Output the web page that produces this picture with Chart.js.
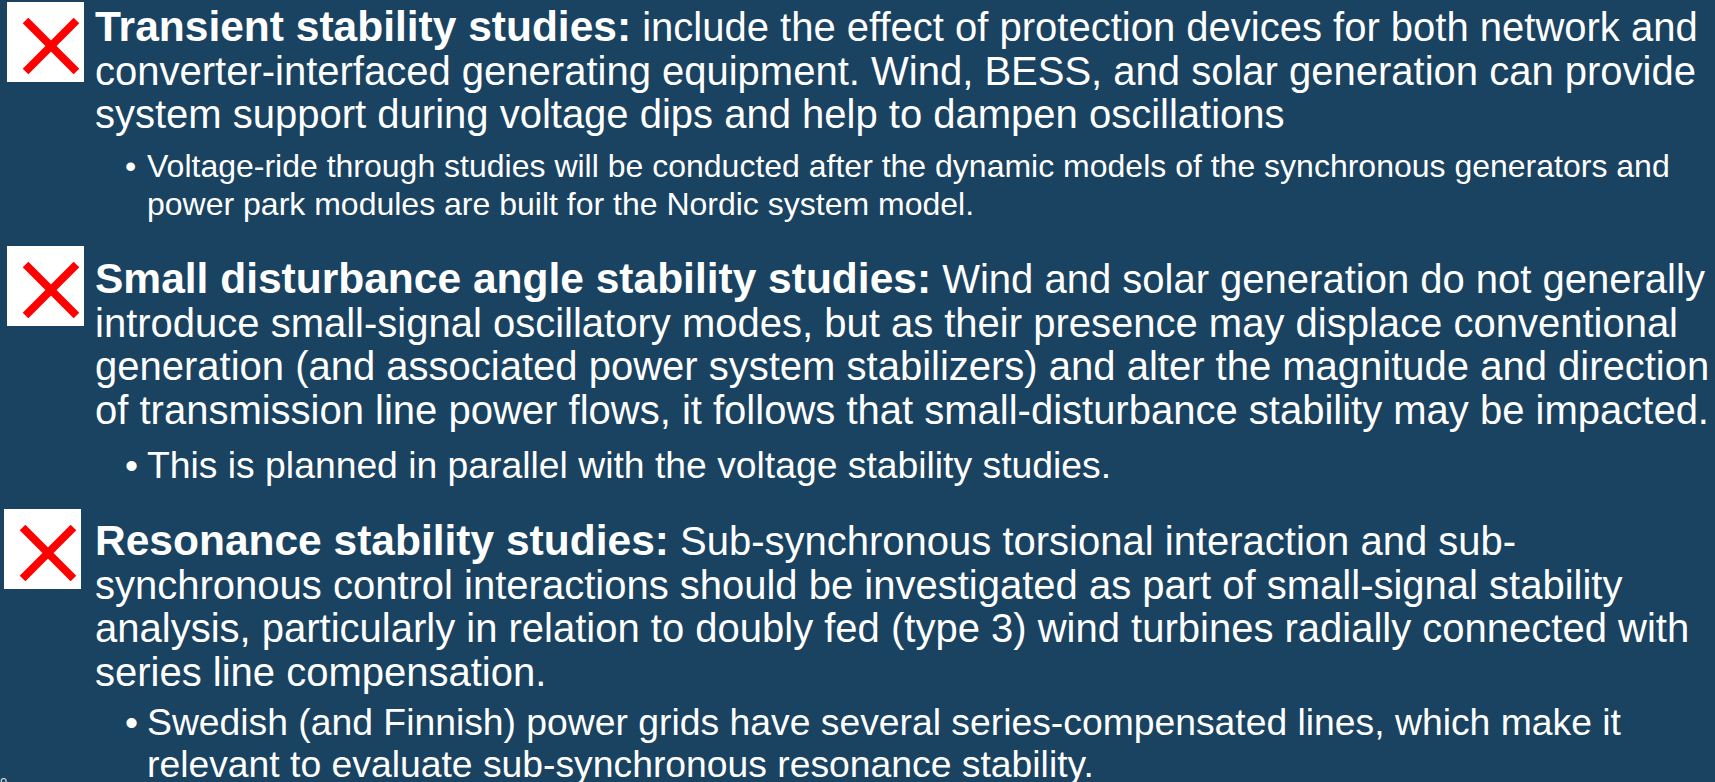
<!DOCTYPE html>
<html>
<head>
<meta charset="utf-8">
<script src="https://cdn.jsdelivr.net/npm/chart.js@4.4.0/dist/chart.umd.min.js"></script>
<style>
  html, body { margin: 0; padding: 0; }
  body {
    width: 1715px; height: 782px; overflow: hidden; position: relative;
    background: #1A4362; color: #fff;
    font-family: "Liberation Sans", Arial, sans-serif;
  }
  .box { position: absolute; width: 77px; height: 80px; background: #fff; }
  .box canvas { display: block; }
  .main { position: absolute; left: 95px; font-size: 40px; line-height: 43.5px; white-space: pre; }
  .main b { font-weight: bold; font-size: 42.5px; }
  .note { position: absolute; left: 147px; white-space: pre; }
  .note .dot { position: absolute; left: -22px; top: 0; }
  .pageno { position: absolute; left: 0; top: 776px; font-size: 13px; line-height: 13px; color: #d8d8d8; }
</style>
</head>
<body>
<div class="pageno">9</div>
<script>
// one entry per study
const studyNames = [
    "Transient stability studies:",
    "Small disturbance angle stability studies:",
    "Resonance stability studies:"
];
const studyStatus = ["not done", "not done", "not done"];

const bodyLines = [
    ["include the effect of protection devices for both network and",
     "converter-interfaced generating equipment. Wind, BESS, and solar generation can provide",
     "system support during voltage dips and help to dampen oscillations"],
    ["Wind and solar generation do not generally",
     "introduce small-signal oscillatory modes, but as their presence may displace conventional",
     "generation (and associated power system stabilizers) and alter the magnitude and direction",
     "of transmission line power flows, it follows that small-disturbance stability may be impacted."],
    ["Sub-synchronous torsional interaction and sub-",
     "synchronous control interactions should be investigated as part of small-signal stability",
     "analysis, particularly in relation to doubly fed (type 3) wind turbines radially connected with",
     "series line compensation."]
];
const noteLines = [
    ["Voltage-ride through studies will be conducted after the dynamic models of the synchronous generators and",
     "power park modules are built for the Nordic system model."],
    ["This is planned in parallel with the voltage stability studies."],
    ["Swedish (and Finnish) power grids have several series-compensated lines, which make it",
     "relevant to evaluate sub-synchronous resonance stability."]
];

// placement of each block on the slide
const layout = [
    { boxLeft: 7, boxTop: 2,   top: 5,   noteTop: 147,   noteSize: 32,   noteLH: 38 },
    { boxLeft: 7, boxTop: 246, top: 257, noteTop: 444,   noteSize: 37.3, noteLH: 42 },
    { boxLeft: 4, boxTop: 509, top: 519, noteTop: 701,   noteSize: 37.3, noteLH: 42 }
];

studyNames.forEach((name, i) => {
    const lay = layout[i];

    // texto principal
    const main = document.createElement("div");
    main.className = "main";
    main.style.top = lay.top + "px";
    bodyLines[i].forEach((line, k) => {
        const row = document.createElement("div");
        if (k === 0) {
            const b = document.createElement("b");
            b.textContent = name;
            row.appendChild(b);
            row.appendChild(document.createTextNode(" " + line));
        } else {
            row.textContent = line;
        }
        main.appendChild(row);
    });
    document.body.appendChild(main);

    // sub bullet
    const note = document.createElement("div");
    note.className = "note";
    note.style.top = lay.noteTop + "px";
    note.style.fontSize = lay.noteSize + "px";
    note.style.lineHeight = lay.noteLH + "px";
    const dot = document.createElement("span");
    dot.className = "dot";
    dot.textContent = "\u2022";
    note.appendChild(dot);
    noteLines[i].forEach(line => {
        const row = document.createElement("div");
        row.textContent = line;
        note.appendChild(row);
    });
    document.body.appendChild(note);

    // status icon drawn by Chart.js
    const box = document.createElement("div");
    box.className = "box";
    box.style.left = lay.boxLeft + "px";
    box.style.top = lay.boxTop + "px";
    const canvas = document.createElement("canvas");
    canvas.width = 77;
    canvas.height = 80;
    box.appendChild(canvas);
    document.body.appendChild(box);

    const done = studyStatus[i] === "done";
    new Chart(canvas, {
        type: "scatter",
        data: {
            datasets: [{
                label: name,
                data: [{ x: 0, y: 0 }],
                pointStyle: done ? "circle" : "crossRot",
                pointRadius: 36,
                borderWidth: 8,
                borderColor: done ? "#00B050" : "#FF0000",
                backgroundColor: "transparent",
                clip: false
            }]
        },
        options: {
            responsive: false,
            animation: false,
            events: [],
            layout: { padding: 0 },
            plugins: { legend: { display: false }, tooltip: { enabled: false } },
            scales: {
                x: { display: false, min: -1, max: 1 },
                y: { display: false, min: -1, max: 1 }
            }
        }
    });
});
</script>
</body>
</html>
